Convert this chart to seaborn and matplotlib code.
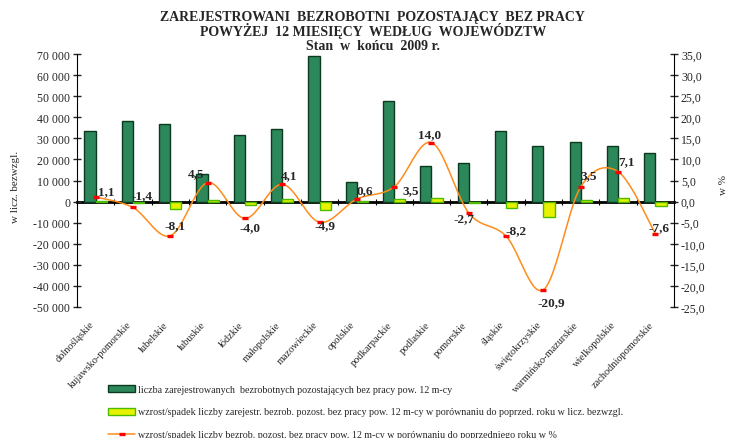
import numpy as np
import pandas as pd
import seaborn as sns
import matplotlib.pyplot as plt
from matplotlib.patches import Patch
from matplotlib.lines import Line2D
from matplotlib.ticker import FuncFormatter, MultipleLocator

## Dane
wojewodztwa = ['dolnośląskie', 'kujawsko-pomorskie', 'lubelskie', 'lubuskie', 'łódzkie',
               'małopolskie', 'mazowieckie', 'opolskie', 'podkarpackie', 'podlaskie',
               'pomorskie', 'śląskie', 'świętokrzyskie', 'warmińsko-mazurskie',
               'wielkopolskie', 'zachodniopomorskie']
liczba = [33600, 38100, 37000, 13200, 31600, 34600, 69200, 9500,
          47500, 17000, 18400, 33600, 26200, 28200, 26200, 23200]
zmiana = [350, -550, -3500, 570, -1500, 1300, -3800, 60,
          1400, 1900, -500, -3200, -7200, 800, 1700, -2100]
zmiana_proc = [1.1, -1.4, -8.1, 4.5, -4.0, 4.1, -4.9, 0.6,
               3.5, 14.0, -2.7, -8.2, -20.9, 3.5, 7.1, -7.6]

# przesunięcia etykiet (px) względem punktów
offsets = [(11, 6), (9, 12), (5, 11), (-11, 9), (5, -9), (7, 9), (5, -3), (8, 9),
           (17, -3), (-2, 8), (-5, -5), (10, 6), (8, -12), (8, 12), (8, 10), (4, 6)]

leg_labels = [
    'liczba zarejestrowanych  bezrobotnych pozostających bez pracy pow. 12 m-cy',
    'wzrost/spadek liczby zarejestr. bezrob. pozost. bez pracy pow. 12 m-cy w porównaniu do poprzed. roku w licz. bezwzgl.',
    'wzrost/spadek liczby bezrob. pozost. bez pracy pow. 12 m-cy w porównaniu do poprzedniego roku w %',
]

sns.set_style('white')
plt.rcParams['font.family'] = ['Liberation Serif', 'DejaVu Serif']

zielony, zielony_kraw = '#2c875a', '#0c3a1f'
zolty, zolty_kraw = '#e6f200', '#4dbb00'
pomarancz = '#ff8c1a'

fig = plt.figure(figsize=(7.31, 4.39), dpi=100)
ax = fig.add_axes([77 / 731, 1 - 308 / 439, 597 / 731, 253 / 439])

df = pd.DataFrame({
    'woj': wojewodztwa * 2,
    'wartosc': liczba + zmiana,
    'seria': ['liczba'] * 16 + ['zmiana'] * 16,
})
sns.barplot(data=df, x='woj', y='wartosc', hue='seria', palette=[zielony, zolty],
            width=0.6, errorbar=None, saturation=1, legend=False, ax=ax)
for cont, ec in zip(ax.containers, [zielony_kraw, zolty_kraw]):
    for b in cont:
        b.set_edgecolor(ec)
        b.set_linewidth(1)

ax.set_xlim(-0.5, 15.5)
ax.set_ylim(-50000, 70000)
ax.yaxis.set_major_locator(MultipleLocator(10000))
ax.yaxis.set_major_formatter(FuncFormatter(lambda v, p: f'{int(v):,}'.replace(',', ' ')))
ax.tick_params(axis='y', left=True, direction='inout', length=6, width=1, labelsize=8.5, pad=2)
ax.set_xticks(range(16))
ax.set_xticklabels(wojewodztwa, rotation=47, ha='right', va='top', fontsize=7.5)
ax.tick_params(axis='x', bottom=False, length=0, pad=9)
ax.set_xlabel('')
ax.set_ylabel('')
for s in ['top', 'bottom', 'right']:
    ax.spines[s].set_visible(False)
ax.spines['left'].set_color('black')

# oś zerowa z kreskami między kategoriami
sec = ax.secondary_xaxis(0, transform=ax.transData)
sec.set_xticks(np.arange(0.5, 15, 1))
sec.set_xticklabels([])
sec.tick_params(direction='inout', length=5, width=0.8, colors='black')
sec.spines['bottom'].set_linewidth(2)
sec.spines['bottom'].set_color('black')

ax2 = ax.twinx()
ax2.set_ylim(-25, 35)
ax2.yaxis.set_major_locator(MultipleLocator(5))
ax2.yaxis.set_major_formatter(FuncFormatter(lambda v, p: f'{v:.1f}'.replace('.', ',')))
ax2.tick_params(axis='y', right=True, direction='inout', length=6, width=1, labelsize=8.5, pad=2)
for s in ['top', 'bottom', 'left']:
    ax2.spines[s].set_visible(False)
ax2.spines['right'].set_color('black')
ax2.grid(False)


def wygladz(xs, ys, n=24):
    # wygładzenie linii jak w Excelu (Catmull-Rom)
    pts = np.column_stack([xs, ys]).astype(float)
    ext = np.vstack([pts[0], pts, pts[-1]])
    out = []
    t = np.linspace(0, 1, n)[:, None]
    for i in range(len(pts) - 1):
        p0, p1, p2, p3 = ext[i], ext[i + 1], ext[i + 2], ext[i + 3]
        m1 = (p2 - p0) / 2
        m2 = (p3 - p1) / 2
        h00 = 2 * t**3 - 3 * t**2 + 1
        h10 = t**3 - 2 * t**2 + t
        h01 = -2 * t**3 + 3 * t**2
        h11 = t**3 - t**2
        out.append(h00 * p1 + h10 * m1 + h01 * p2 + h11 * m2)
    out = np.vstack(out)
    return out[:, 0], out[:, 1]


xs = np.arange(len(zmiana_proc))
sx, sy = wygladz(xs, zmiana_proc)
ax2.plot(sx, sy, color=pomarancz, lw=1.1, zorder=3)
ax2.plot(xs, zmiana_proc, ls='none', marker='_', ms=5, mew=2.4, color='red', zorder=4)

for i, (v, off) in enumerate(zip(zmiana_proc, offsets)):
    ax2.annotate(f'{v:.1f}'.replace('.', ','), (i, v), xytext=off, textcoords='offset pixels',
                 ha='center', va='center', fontsize=9.5, fontweight='bold', zorder=5)

# tytuł
fig.text(0.51, 1 - 17 / 439, 'ZAREJESTROWANI  BEZROBOTNI  POZOSTAJĄCY  BEZ PRACY',
         ha='center', va='center', fontsize=10, fontweight='bold')
fig.text(0.51, 1 - 31 / 439, 'POWYŻEJ  12 MIESIĘCY  WEDŁUG  WOJEWÓDZTW',
         ha='center', va='center', fontsize=10, fontweight='bold')
fig.text(0.51, 1 - 46 / 439, 'Stan  w  końcu  2009 r.',
         ha='center', va='center', fontsize=10, fontweight='bold')

fig.text(15 / 731, 1 - 187 / 439, 'w licz. bezwzgl.', rotation=90, ha='center', va='center', fontsize=8)
fig.text(724 / 731, 1 - 185 / 439, 'w %', rotation=90, ha='center', va='center', fontsize=8)

handles = [
    Patch(facecolor=zielony, edgecolor=zielony_kraw),
    Patch(facecolor=zolty, edgecolor=zolty_kraw),
    Line2D([], [], color=pomarancz, lw=1.1, marker='_', ms=5, mew=2.4, mec='red', mfc='red'),
]
fig.legend(handles, leg_labels, loc='upper left', bbox_to_anchor=(104 / 731, 1 - 382 / 439),
           frameon=False, fontsize=7.2, handlelength=2.7, labelspacing=1.35,
           handletextpad=0.3, borderaxespad=0)

fig.savefig('out.png', dpi=100)
